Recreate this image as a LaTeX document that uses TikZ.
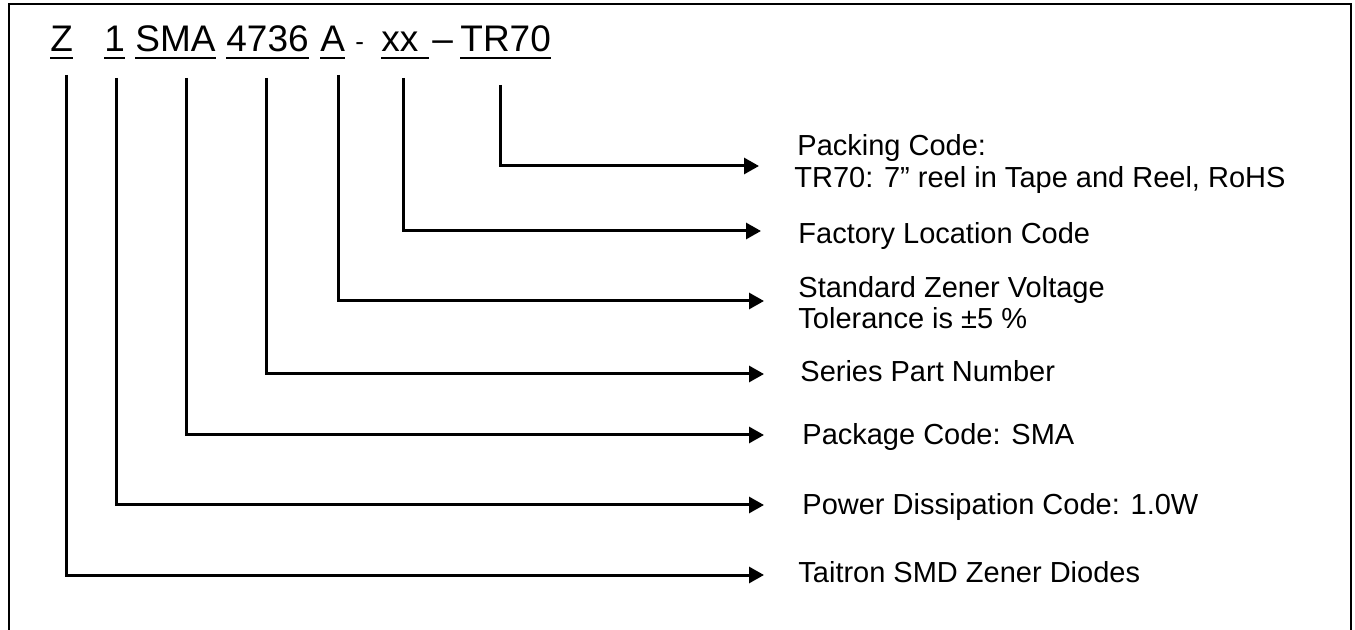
\documentclass[tikz,border=0pt]{standalone}
\usepackage{fontspec}
\setmainfont{Liberation Sans}
\usetikzlibrary{arrows.meta}
\begin{document}
\begin{tikzpicture}[x=0.5pt,y=-0.5pt,
  tok/.style={inner sep=0pt, anchor=base west, font=\fontsize{18.5pt}{22pt}\selectfont},
  lbl/.style={inner sep=0pt, anchor=base west, font=\fontsize{14.5pt}{17pt}\selectfont},
  ul/.style={line width=1.2pt},
  conn/.style={line width=1.5pt, -{Triangle[length=7.5pt,width=8pt]}},
  frameline/.style={line width=1.2pt}]
\useasboundingbox (0,0) rectangle (1355,630);
\draw[frameline] (9,630) -- (9,4) -- (1351,4) -- (1351,630);

% title tokens
\node[tok] (tz) at (50,52) {Z};
\node[tok] (t1) at (104,52) {1};
\node[tok] (tsma) at (135,52) {SMA};
\node[tok] (t4736) at (226,52) {4736};
\node[tok] (ta) at (320,52) {A};
\node[tok, font=\fontsize{13pt}{15pt}\selectfont] (td1) at (355,51) {-};
\node[tok] (txx) at (381,52) {xx};
\node[tok] (td2) at (432,52) {–};
\node[tok] (ttr) at (460,52) {TR70};

\foreach \n in {tz,t1,tsma,t4736,ta,ttr}
  \draw[ul] ([yshift=-3pt]\n.base west) -- ([yshift=-3pt]\n.base east);
\draw[ul] ([yshift=-3pt]txx.base west) -- ([yshift=-3pt,xshift=5pt]txx.base east);

% labels
\node[lbl] (lpk1) at (797,156) {Packing Code:};
\node[lbl] (lpk2) at (794,188) {TR70: 7” reel in Tape and Reel, RoHS};
\node[lbl] (lfc) at (798,244) {Factory Location Code};
\node[lbl] (lsz1) at (798,298) {Standard Zener Voltage};
\node[lbl] (lsz2) at (798,329) {Tolerance is ±5 \%};
\node[lbl] (lsp) at (800,382) {Series Part Number};
\node[lbl] (lpc) at (802,445) {Package Code: SMA};
\node[lbl] (lpd) at (802,515) {Power Dissipation Code: 1.0W};
\node[lbl] (lts) at (798,582) {Taitron SMD Zener Diodes};

% connector start and end points
\coordinate (sz) at (66,75);
\coordinate (s1) at (116,78);
\coordinate (ssma) at (186,78);
\coordinate (s4736) at (266,78);
\coordinate (sa) at (338,75);
\coordinate (sxx) at (403,78);
\coordinate (str) at (500,85);

\coordinate (etr) at (759,166);
\coordinate (exx) at (761,231);
\coordinate (ea) at (764,301);
\coordinate (e4736) at (764,374);
\coordinate (esma) at (764,435);
\coordinate (e1) at (764,505);
\coordinate (ez) at (764,575);

\draw[conn] (str) |- (etr);
\draw[conn] (sxx) |- (exx);
\draw[conn] (sa) |- (ea);
\draw[conn] (s4736) |- (e4736);
\draw[conn] (ssma) |- (esma);
\draw[conn] (s1) |- (e1);
\draw[conn] (sz) |- (ez);
\end{tikzpicture}
\end{document}
